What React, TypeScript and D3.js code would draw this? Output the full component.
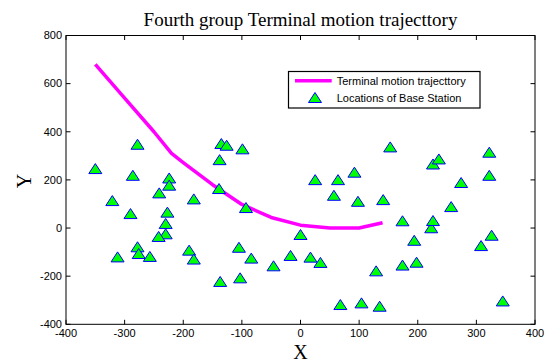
import React from "react";
import * as d3 from "d3";

const stationX = [-350, -278, -286, -321, -290, -312, -278, -276, -257, -241, -224, -224, -227, -230, -230, -242, -182, -190, -182, -135, -126, -138, -99, -139, -93, -105, -84, -137, -103, -46, -17, 0, 17, 34, 25, 64, 57, 92, 98, 141, 153, 68, 104, 135, 129, 174, 174, 194, 198, 223, 226, 226, 236, 257, 274, 308, 326, 322, 322, 345];
const stationY = [245, 346, 217, 112, 58, -122, -80, -108, -120, 144, 206, 176, 64, 17, -26, -37, 119, -94, -131, 349, 342, 282, 327, 162, 83, -82, -127, -224, -209, -159, -116, -29, -123, -145, 199, 199, 134, 230, 109, 116, 335, -320, -313, -327, -180, 28, -156, -53, -144, -1, 29, 264, 285, 87, 187, -75, -32, 313, 217, -305];

const trajX = [-350, -300, -250, -220, -200, -150, -100, -50, 0, 50, 100, 140];
const trajY = [680, 540, 400, 310, 272, 180, 98, 44, 12, 0, 0, 22];

const xTicks = [-400, -300, -200, -100, 0, 100, 200, 300, 400];
const yTicks = [-400, -200, 0, 200, 400, 600, 800];

const titleText = "Fourth group Terminal motion trajecttory";
const xLabel = "X";
const yLabel = "Y";
const legendLabels = ["Terminal motion trajecttory", "Locations of Base Station"];

const W = 553, H = 361;
const L = 66, R = 535, T = 35.5, B = 324.3;
const TICK = 4.5;
const serif = "'Liberation Serif', 'Times New Roman', serif";
const sans = "'Liberation Sans', Arial, sans-serif";

function tri(cx: number, cy: number) {
  return `M${cx},${cy - 5.5}L${cx + 6.5},${cy + 4.5}L${cx - 6.5},${cy + 4.5}Z`;
}

export default function App() {
  const x = d3.scaleLinear().domain([-400, 400]).range([L, R]);
  const y = d3.scaleLinear().domain([-400, 800]).range([B, T]);
  const line = d3.line<number>().x((_, i) => x(trajX[i])).y((_, i) => y(trajY[i]));

  return (
    <svg width={W} height={H} style={{ position: "fixed", left: 0, top: 0, background: "#fff" }}>
      <rect x={0} y={0} width={W} height={H} fill="#fff" />
      <text x={(L + R) / 2} y={26} textAnchor="middle" fontFamily={serif} fontSize={19}>{titleText}</text>
      {xTicks.map((t) => (
        <g key={"xt" + t}>
          <line x1={x(t)} x2={x(t)} y1={B} y2={B - TICK} stroke="#000" />
          <line x1={x(t)} x2={x(t)} y1={T} y2={T + TICK} stroke="#000" />
          <text x={x(t)} y={336.5} textAnchor="middle" fontFamily={sans} fontSize={11}>{t}</text>
        </g>
      ))}
      {yTicks.map((t) => (
        <g key={"yt" + t}>
          <line x1={L} x2={L + TICK} y1={y(t)} y2={y(t)} stroke="#000" />
          <line x1={R} x2={R - TICK} y1={y(t)} y2={y(t)} stroke="#000" />
          <text x={62} y={y(t)} dy="0.35em" textAnchor="end" fontFamily={sans} fontSize={11}>{t}</text>
        </g>
      ))}
      <rect x={L} y={T} width={R - L} height={B - T} fill="none" stroke="#000" strokeWidth={1} />
      <path d={line(trajX) || ""} fill="none" stroke="#ff00ff" strokeWidth={3.5} strokeLinejoin="round" />
      {stationX.map((sx, i) => (
        <path key={"s" + i} d={tri(x(sx), y(stationY[i]))} fill="#00ff00" stroke="#0000ff" strokeWidth={1} />
      ))}
      <text x={(L + R) / 2} y={358.5} textAnchor="middle" fontFamily={serif} fontSize={20}>{xLabel}</text>
      <text transform={`translate(31,181) rotate(-90)`} textAnchor="middle" fontFamily={serif} fontSize={20}>{yLabel}</text>
      <rect x={288.5} y={71.5} width={191.5} height={36.5} fill="#fff" stroke="#000" strokeWidth={1.2} />
      <line x1={295} x2={331.7} y1={80.7} y2={80.7} stroke="#ff00ff" strokeWidth={3.5} />
      <text x={336.7} y={80.7} dy="0.35em" fontFamily={sans} fontSize={11}>{legendLabels[0]}</text>
      <path d={tri(315, 98)} fill="#00ff00" stroke="#0000ff" strokeWidth={1} />
      <text x={336.7} y={98.3} dy="0.35em" fontFamily={sans} fontSize={11}>{legendLabels[1]}</text>
    </svg>
  );
}
